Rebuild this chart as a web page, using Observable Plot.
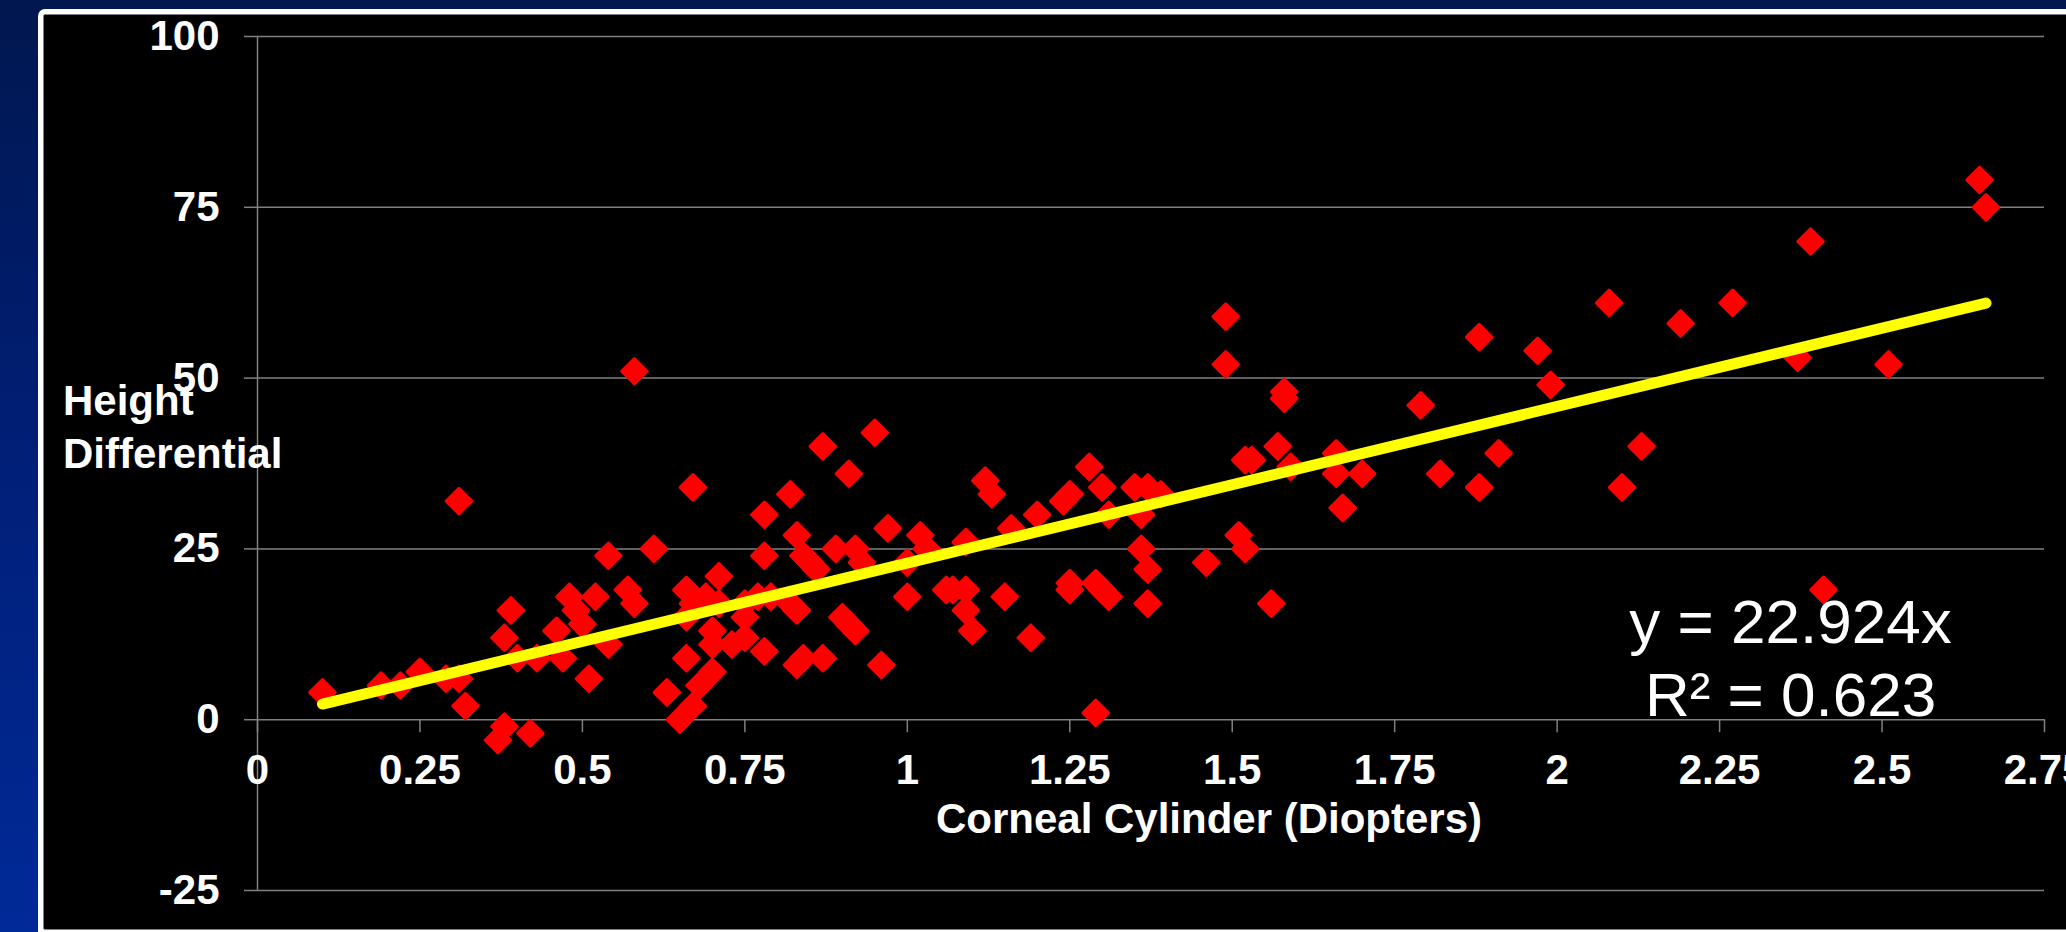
<!DOCTYPE html>
<html>
<head>
<meta charset="utf-8">
<script src="https://cdn.jsdelivr.net/npm/d3@7"></script>
<script src="https://cdn.jsdelivr.net/npm/@observablehq/plot@0.6"></script>
<style>
  html, body { margin: 0; padding: 0; width: 2066px; height: 932px; overflow: hidden; }
  body { position: relative; background: linear-gradient(180deg, #00174f 0%, #001f78 50%, #002a98 100%); }
  #frame { position: absolute; left: 38px; top: 9px; width: 2100px; height: 960px; background: #ffffff; border-radius: 7px; }
  #inner { position: absolute; left: 5px; top: 5px; width: 2100px; height: 916px; background: #000000; border: 1.5px solid #808080; border-radius: 2px; box-sizing: border-box; }
  #chart { position: absolute; left: 0; top: 0; }
</style>
</head>
<body>
<div id="frame"><div id="inner"></div></div>
<div id="chart"></div>
<script>
// ---- data ----
const cylinder = [
  0.10,0.19,0.22,0.25,0.29,0.31,0.31,0.32,0.37,0.38,
  0.38,0.39,0.40,0.42,0.43,0.46,0.47,0.48,0.49,0.50,
  0.51,0.52,0.54,0.54,0.57,0.58,0.58,0.61,0.63,0.65,
  0.66,0.67,0.66,0.66,0.67,0.68,0.67,0.69,0.70,0.70,
  0.70,0.71,0.71,0.73,0.75,0.75,0.75,0.77,0.78,0.78,
  0.78,0.79,0.82,0.82,0.83,0.83,0.83,0.84,0.84,0.85,
  0.86,0.87,0.87,0.89,0.90,0.91,0.91,0.92,0.92,0.93,
  0.95,0.96,0.97,1.00,1.00,1.02,1.03,1.06,1.07,1.09,
  1.09,1.09,1.10,1.12,1.13,1.15,1.16,1.19,1.20,1.24,
  1.25,1.25,1.25,1.28,1.29,1.29,1.30,1.30,1.31,1.31,
  1.35,1.36,1.36,1.37,1.37,1.37,1.39,1.46,1.49,1.49,
  1.51,1.52,1.52,1.53,1.56,1.57,1.58,1.58,1.59,1.66,
  1.66,1.67,1.70,1.79,1.82,1.88,1.88,1.91,1.97,1.99,
  2.08,2.10,2.13,2.19,2.27,2.37,2.39,2.41,2.51,2.65,
  2.66
];
const heightDiff = [
  4,5,5,7,6,6,32,2,-3,-1,
  12,16,9,-2,9,13,9,18,16,14,
  6,18,24,11,19,17,51,25,4,0,
  19,17,15,9,2,5,34,18,7,11,
  13,17,21,11,12,15,17,18,10,24,
  30,18,17,33,8,16,27,9,24,23,
  22,9,40,25,15,14,36,13,25,23,
  42,8,28,18,23,27,25,19,19,19,
  16,26,13,35,33,18,28,12,30,32,
  33,20,19,37,20,1,19,34,18,30,
  34,30,25,34,22,17,33,23,59,52,
  27,25,38,38,17,40,48,47,37,39,
  36,31,36,46,36,56,34,39,54,49,
  61,34,40,58,61,53,70,19,52,79,
  75
];
const trendSlope = 22.924;
const rSquared = 0.623;
const xTicks = [0, 0.25, 0.5, 0.75, 1, 1.25, 1.5, 1.75, 2, 2.25, 2.5, 2.75];
const xTickLabels = ["0", "0.25", "0.5", "0.75", "1", "1.25", "1.5", "1.75", "2", "2.25", "2.5", "2.75"];
const yTicks = [-25, 0, 25, 50, 75, 100];
const yTickLabels = ["-25", "0", "25", "50", "75", "100"];
const xTitle = "Corneal Cylinder (Diopters)";
const yTitle = "Height\nDifferential";

// ---- layout ----
const W = 2066, H = 932;
const M = {left: 257, right: 22, top: 36, bottom: 42};
const xDomain = [0, 2.75];
const yDomain = [-25, 100];
const innerH = H - M.top - M.bottom;
const xAxisShift = innerH * (0 - yDomain[0]) / (yDomain[1] - yDomain[0]);
const gray = "#808080";
const font = "'Liberation Sans', Arial, Helvetica, sans-serif";

const pts = cylinder.map((x, i) => ({x, y: heightDiff[i]}));
const xMin = d3.min(cylinder), xMax = d3.max(cylinder);
const trend = [xMin, xMax].map(x => ({x, y: trendSlope * x}));
const eqText = `y = ${trendSlope}x\nR\u00B2 = ${rSquared}`;

const chart = Plot.plot({
  width: W,
  height: H,
  marginLeft: M.left,
  marginRight: M.right,
  marginTop: M.top,
  marginBottom: M.bottom,
  style: {background: "transparent", color: "white", fontFamily: font, overflow: "visible"},
  x: {domain: xDomain, label: null},
  y: {domain: yDomain, label: null},
  marks: [
    Plot.gridY(yTicks, {stroke: gray, strokeOpacity: 1, strokeWidth: 1.5}),
    Plot.ruleX([0], {stroke: gray, strokeWidth: 1.5}),
    Plot.axisY(yTicks, {
      tickSize: 13, tickPadding: 25, stroke: gray, strokeWidth: 1.5,
      fill: "white", fontSize: 42, fontWeight: "bold", label: null,
      tickFormat: d => yTickLabels[yTicks.indexOf(d)]
    }),
    Plot.axisX(xTicks, {
      anchor: "bottom", dy: -xAxisShift,
      tickSize: 13, tickPadding: 21, stroke: gray, strokeWidth: 1.5,
      fill: "white", fontSize: 42, fontWeight: "bold", label: null,
      tickFormat: d => xTickLabels[xTicks.indexOf(d)]
    }),
    Plot.dot(pts, {
      x: "x", y: "y", symbol: "diamond2", r: 11.5,
      fill: "#ff0000", stroke: "#ff0000", strokeWidth: 3, strokeLinejoin: "round"
    }),
    Plot.line(trend, {x: "x", y: "y", stroke: "#ffff00", strokeWidth: 11, strokeLinecap: "round"}),
    Plot.text([eqText], {
      text: d => d, frameAnchor: "bottom-right", textAnchor: "middle", lineAnchor: "bottom",
      dx: -254, dy: -175, fontSize: 62, lineHeight: 1.17, fill: "white", fontWeight: "normal"
    }),
    Plot.text([yTitle], {
      text: d => d, frameAnchor: "left", textAnchor: "start", lineAnchor: "bottom",
      dx: -194.5, dy: 4, fontSize: 42, lineHeight: 1.24, fill: "white", fontWeight: "bold"
    }),
    Plot.text([xTitle], {
      text: d => d, frameAnchor: "bottom", textAnchor: "middle", lineAnchor: "bottom",
      dx: 58, dy: -58, fontSize: 42, fill: "white", fontWeight: "bold"
    })
  ]
});
document.getElementById("chart").appendChild(chart);
</script>
</body>
</html>
